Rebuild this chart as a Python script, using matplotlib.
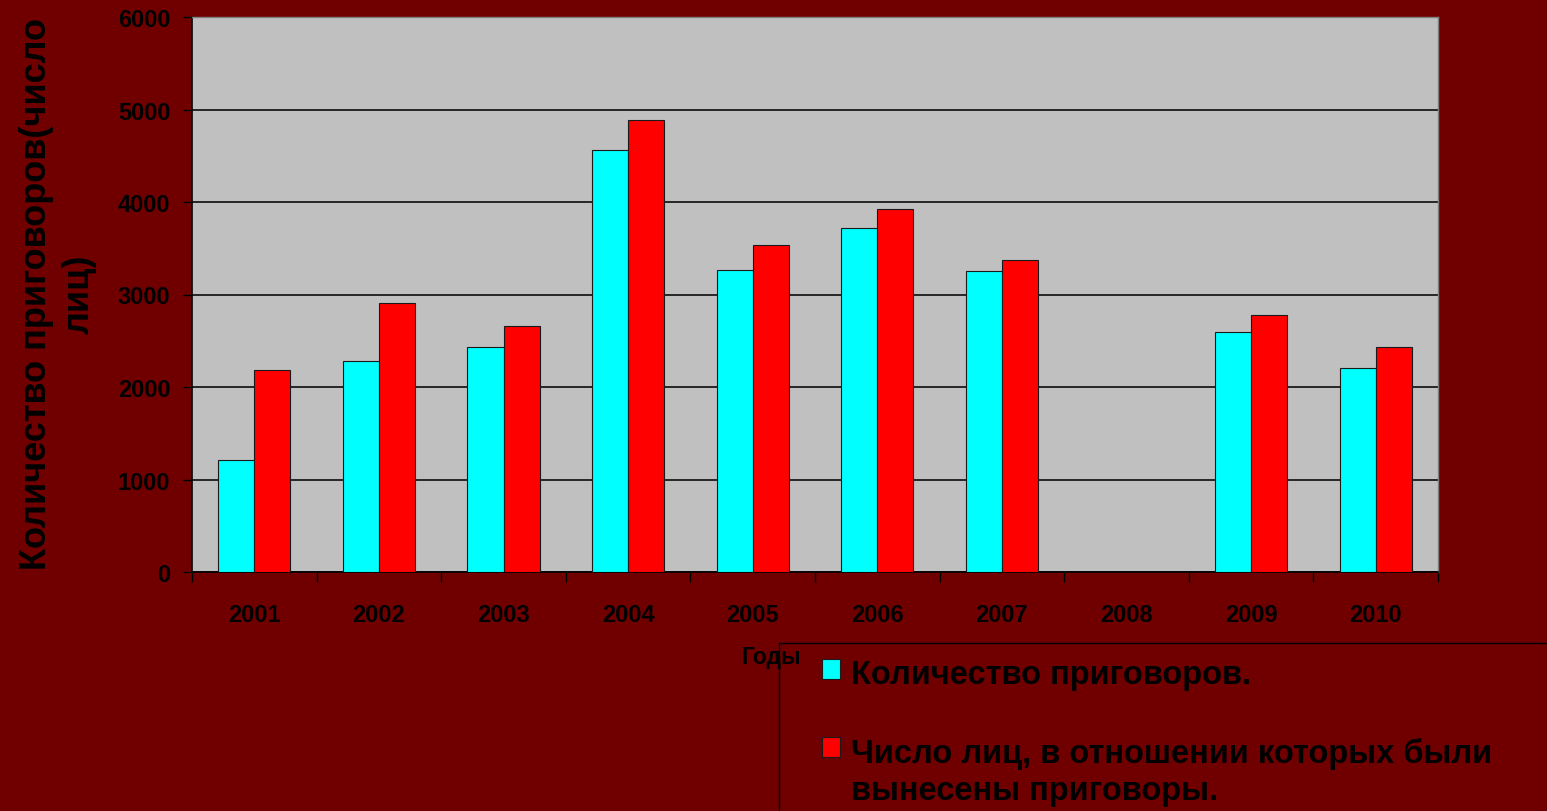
import numpy as np
import matplotlib
matplotlib.use("Agg")
import matplotlib.pyplot as plt
from matplotlib.patches import Rectangle

# data
years = ['2001', '2002', '2003', '2004', '2005', '2006', '2007', '2008', '2009', '2010']
sentences = [1210, 2280, 2430, 4560, 3270, 3720, 3250, np.nan, 2590, 2210]
persons = [2180, 2910, 2660, 4890, 3530, 3920, 3370, np.nan, 2780, 2430]
label_sent = 'Количество приговоров.'
label_pers = 'Число лиц, в отношении которых были\nвынесены приговоры.'

bg = '#700000'
plt.rcParams['font.family'] = ['Liberation Sans', 'DejaVu Sans']
plt.rcParams['font.weight'] = 'bold'

fig = plt.figure(figsize=(15.47, 8.12), dpi=100, facecolor=bg)
ax = fig.add_axes([192/1547, 1-573/812, 1246/1547, 555/812])
ax.set_facecolor('#c0c0c0')

x = np.arange(len(years))
w = 0.29
b1 = ax.bar(x - w/2, sentences, w, color='#00ffff', edgecolor='#1a1a1a', linewidth=0.8,
            label=label_sent, zorder=3)
b2 = ax.bar(x + w/2, persons, w, color='#ff0000', edgecolor='#1a1a1a', linewidth=0.8,
            label=label_pers, zorder=3)

ax.set_xlim(-0.5, len(years) - 0.5)
ax.set_ylim(0, 6000)
ax.set_yticks(range(0, 6001, 1000))
ax.yaxis.grid(True, color='#1a1a1a', linewidth=1.3, zorder=1)
ax.set_axisbelow(True)

# ticks at category boundaries, labels at centres
ax.set_xticks(np.arange(-0.5, len(years), 1.0))
ax.set_xticklabels([])
ax.set_xticks(x, minor=True)
ax.set_xticklabels(years, minor=True, fontsize=17, fontweight='bold')
ax.tick_params(axis='x', which='major', direction='out', length=7, width=1, color='black')
ax.tick_params(axis='x', which='minor', length=0, pad=22)
ax.tick_params(axis='y', direction='out', length=6.5, width=1, color='black', pad=9,
               labelsize=17)
for lab in ax.get_yticklabels():
    lab.set_fontweight('bold')

for s in ['left', 'bottom']:
    ax.spines[s].set_color('black')
    ax.spines[s].set_linewidth(1.2)
for s in ['top', 'right']:
    ax.spines[s].set_color('#808080')
    ax.spines[s].set_linewidth(1.0)

fig.text(58/1547, 1-294/812, 'Количество приговоров(число\nлиц)', rotation=90,
         ha='center', va='center', multialignment='center', fontsize=26,
         fontweight='bold', linespacing=1.3)

ax.set_xlabel('Годы', fontsize=16.5, fontweight='bold')
ax.xaxis.set_label_coords((771-192)/1246, -(646-573)/555)

# legend box running off the figure edge
fig.patches.append(Rectangle((779/1547, -0.05), 0.6, 1.05-644/812,
                             transform=fig.transFigure, facecolor='none',
                             edgecolor='black', linewidth=1.0, zorder=0))

leg = fig.legend(handles=[b1, b2], loc='upper left',
                 bbox_to_anchor=(822/1547, 1-660/812), frameon=False,
                 prop={'size': 23.5, 'weight': 'bold'}, handlelength=0.55,
                 handleheight=0.55, handletextpad=0.35, labelspacing=1.45,
                 borderpad=0, borderaxespad=0)
for t in leg.get_texts():
    t.set_linespacing(1.25)
# keep the marker of the two-line entry next to its first line
for col in leg._legend_handle_box.get_children():
    for row in col.get_children():
        row.align = 'top'

fig.savefig('out.png', dpi=100, facecolor=bg)
